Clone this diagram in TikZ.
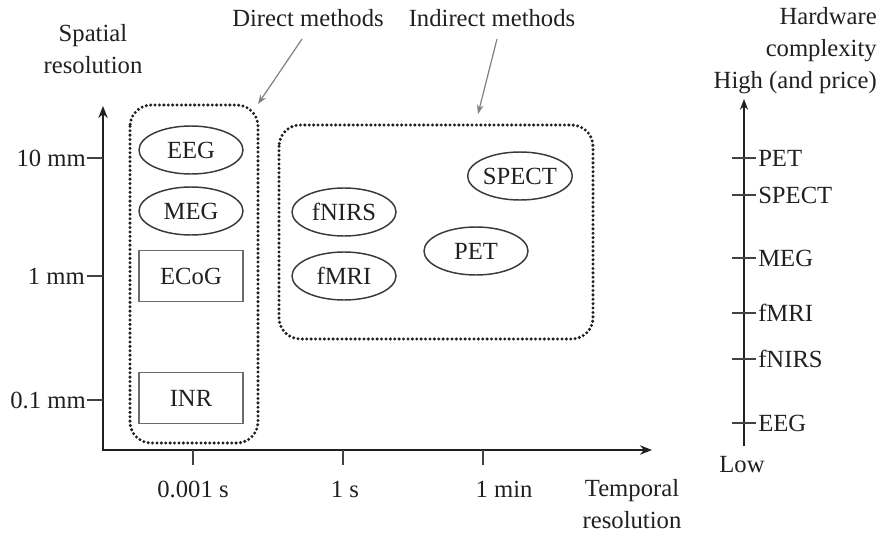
\documentclass[tikz,border=0pt]{standalone}
\usepackage{fontspec}
\setmainfont{Liberation Serif}
\usetikzlibrary{arrows.meta,shapes.geometric}
\definecolor{ink}{HTML}{231F20}
\definecolor{pointer}{HTML}{808080}
\definecolor{edge}{HTML}{3A3A3A}
\begin{document}
\begin{tikzpicture}[x=0.75pt,y=-0.75pt,
  every node/.style={text=ink,font=\fontsize{18.5}{24}\selectfont,inner sep=0pt},
  axis/.style={draw=ink,line width=2.2pt},
  tick/.style={draw=ink!85,line width=1.3pt},
  oval/.style={ellipse,draw=edge,line width=1.1pt,minimum width=78pt,minimum height=36pt},
  bx/.style={rectangle,draw=edge!75,line width=1.1pt,minimum width=78pt,minimum height=38pt},
  group/.style={draw=ink,line width=2.5pt,dash pattern=on 0pt off 3.3pt,line cap=round,rounded corners=16pt},
  pointerarrow/.style={draw=pointer,line width=0.9pt,-{Stealth[length=7pt,width=5pt]}},
  lbl/.style={align=center}
]
\useasboundingbox (0,0) rectangle (881,535);

% main axes
\coordinate (ytop) at (103,106);
\coordinate (orig) at (103,450);
\coordinate (xend) at (652,450);
\draw[axis,{Stealth[length=9pt,width=7pt]}-{Stealth[length=9pt,width=7pt]}] (ytop) -- (orig) -- (xend);

% y ticks
\coordinate (y10a) at (87,158); \coordinate (y10b) at (103,158);
\coordinate (y1a) at (87,276);  \coordinate (y1b) at (103,276);
\coordinate (y01a) at (87,400); \coordinate (y01b) at (103,400);
\draw[tick] (y10a) -- (y10b);
\draw[tick] (y1a) -- (y1b);
\draw[tick] (y01a) -- (y01b);
\node[anchor=east] (l10) at (86,158) {10 mm};
\node[anchor=east] (l1) at (85,276) {1 mm};
\node[anchor=east] (l01) at (86,400) {0.1 mm};

% x ticks
\coordinate (xa) at (193,450); \coordinate (xa2) at (193,465);
\coordinate (xb) at (343,450); \coordinate (xb2) at (343,465);
\coordinate (xc) at (483,450); \coordinate (xc2) at (483,465);
\draw[tick] (xa) -- (xa2);
\draw[tick] (xb) -- (xb2);
\draw[tick] (xc) -- (xc2);
\node (t1) at (193,489) {0.001 s};
\node (t2) at (345,489) {1 s};
\node (t3) at (504,489) {1 min};

% axis titles
\node[lbl] (spatial) at (93,49) {Spatial\\resolution};
\node[lbl] (temporal) at (632,504) {Temporal\\resolution};

% group labels
\node (direct) at (308,18) {Direct methods};
\node (indirect) at (492,18) {Indirect methods};

% group boxes
\draw[group] (130,105) rectangle (258,443);
\draw[group] (279,125) rectangle (593,339);
\coordinate (dtip) at (258,104);
\coordinate (itip) at (478,114);
\coordinate (dstart) at (302,39);
\coordinate (istart) at (497,39);
\draw[pointerarrow] (dstart) -- (dtip);
\draw[pointerarrow] (istart) -- (itip);

% direct methods
\node[oval] (eeg) at (191,150) {EEG};
\node[oval] (meg) at (191,211) {MEG};
\node[bx] (ecog) at (191,276) {ECoG};
\node[bx] (inr) at (191,398) {INR};

% indirect methods
\node[oval] (fnirs) at (344,212) {fNIRS};
\node[oval] (fmri) at (344,276) {fMRI};
\node[oval] (pet) at (476,251) {PET};
\node[oval] (spect) at (520,176) {SPECT};

% hardware complexity axis
\coordinate (hlow) at (744,446);
\coordinate (hhigh) at (744,99);
\draw[axis,line width=1.8pt,-{Stealth[length=8pt,width=6pt]}] (hlow) -- (hhigh);
\foreach \yy/\nm/\txt in {158/hpet/PET,195/hspect/SPECT,258/hmeg/MEG,313/hfmri/fMRI,359/hfnirs/fNIRS,423/heeg/EEG}{
  \coordinate (\nm a) at (732,\yy);
  \coordinate (\nm b) at (756,\yy);
  \draw[tick] (\nm a) -- (\nm b);
  \node[anchor=west] (\nm) at (758,\yy) {\txt};
}
\node (low) at (742,465) {Low};
\node[align=right,anchor=north east] (hw) at (877,7) {Hardware\\complexity\\High (and price)};
\end{tikzpicture}
\end{document}
